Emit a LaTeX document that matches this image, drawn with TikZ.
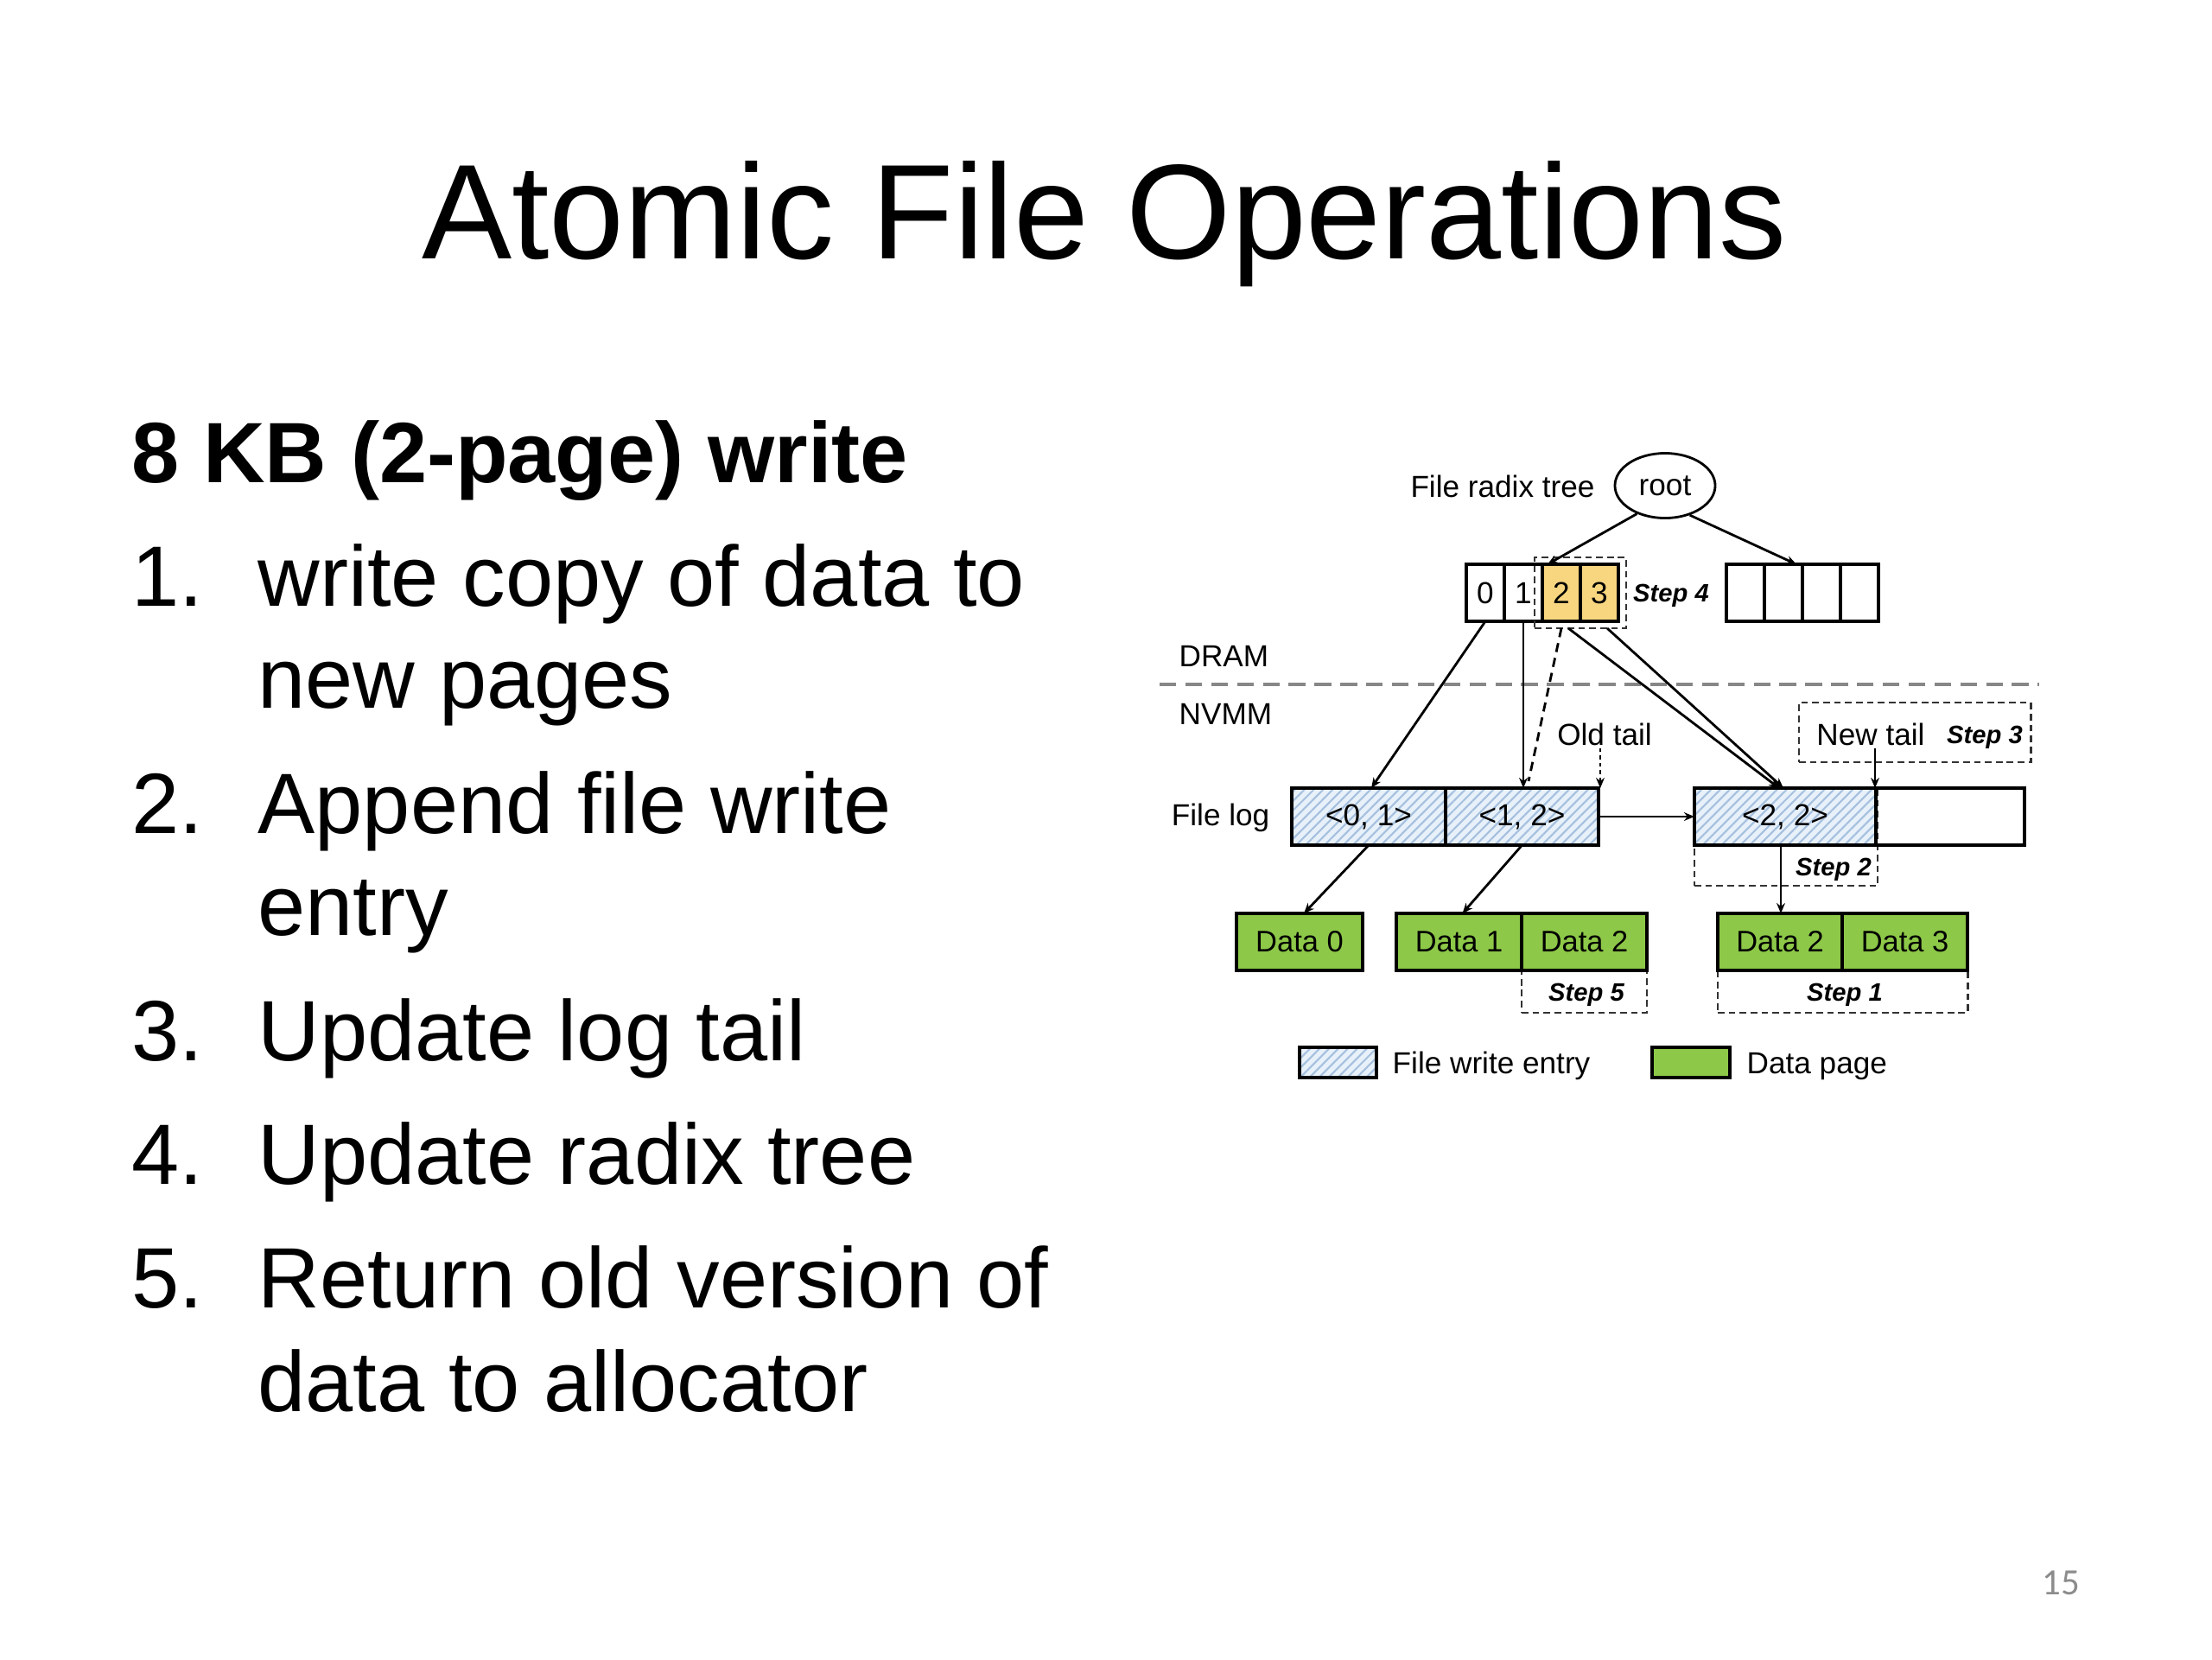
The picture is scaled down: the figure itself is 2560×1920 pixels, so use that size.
\documentclass[tikz,border=0pt]{standalone}
\usepackage{fontspec}
\setmainfont{Liberation Sans}
\newfontfamily\pgnumfont{Carlito}
\usetikzlibrary{shapes.geometric,patterns.meta,arrows.meta,calc,fit}
\definecolor{cellyellow}{RGB}{248,214,128}
\definecolor{datagreen}{RGB}{141,200,72}
\definecolor{hatchbg}{RGB}{232,241,250}
\definecolor{hatchln}{RGB}{165,192,222}
\definecolor{sepgray}{RGB}{135,135,135}
\definecolor{pggray}{RGB}{140,140,140}
\begin{document}
\begin{tikzpicture}[x=0.01cm,y=-0.01cm,
  dtext/.style={font=\fontsize{10}{12}\selectfont, inner sep=0},
  steptext/.style={font=\fontsize{8.3}{10}\selectfont\bfseries\itshape, inner sep=0, anchor=base},
  cellbox/.style={draw, line width=0.9pt, minimum width=4.4mm, minimum height=6.6mm, inner sep=0, outer sep=0, font=\fontsize{10}{12}\selectfont},
  logbox/.style={draw, line width=0.9pt, minimum height=6.6mm, inner sep=0, outer sep=0, font=\fontsize{10}{12}\selectfont},
  hatch/.style={preaction={fill=hatchbg}, pattern={Lines[angle=45,distance=2.2pt,line width=0.6pt]}, pattern color=hatchln},
  databox/.style={draw, fill=datagreen, line width=0.9pt, minimum height=6.6mm, minimum width=14.5mm, inner sep=0, outer sep=0, font=\fontsize{9.8}{12}\selectfont},
  stepbox/.style={draw=black!80, dash pattern=on 2.2pt off 1.4pt, line width=0.8pt, inner sep=0, outer sep=0},
  arr/.style={line width=0.8pt, -{Stealth[length=3.4pt,width=2.8pt]}},
  listtext/.style={font=\fontsize{28.2}{34}\selectfont, anchor=base west, inner sep=0},
]
\useasboundingbox (0,0) rectangle (2560,1920);
\fill[white] (0,0) rectangle (2560,1920);

% title
\node[font=\fontsize{44.4}{50}\selectfont, anchor=base, inner sep=0] (title) at (1278,299) {Atomic File Operations};

% left text
\node[listtext, font=\fontsize{28.2}{34}\selectfont\bfseries] (head) at (152,558) {8 KB (2-page) write};
\node[listtext] (n1) at (152,701) {1.};
\node[listtext] (t1a) at (298,701) {write copy of data to};
\node[listtext] (t1b) at (298,819) {new pages};
\node[listtext] (n2) at (152,964) {2.};
\node[listtext] (t2a) at (298,964) {Append file write};
\node[listtext] (t2b) at (298,1082) {entry};
\node[listtext] (n3) at (152,1227) {3.};
\node[listtext] (t3) at (298,1227) {Update log tail};
\node[listtext] (n4) at (152,1370) {4.};
\node[listtext] (t4) at (298,1370) {Update radix tree};
\node[listtext] (n5) at (152,1513) {5.};
\node[listtext] (t5a) at (298,1513) {Return old version of};
\node[listtext] (t5b) at (298,1633) {data to allocator};

% page number
\node[font=\pgnumfont\fontsize{12.2}{14}\selectfont, text=pggray, anchor=base west, inner sep=0] (pg) at (2363,1845) {15};

% ---------- diagram ----------
\node[dtext] (frt) at (1739,563) {File radix tree};
\node[ellipse, draw, line width=0.8pt, minimum width=11.6mm, minimum height=7.5mm, inner sep=0, font=\fontsize{10}{12}\selectfont] (root) at (1927,562) {root};

% left array
\node[cellbox] (c0) at (1719,686) {0};
\node[cellbox] (c1) at (1763,686) {1};
\node[cellbox, fill=cellyellow] (c2) at (1807,686) {2};
\node[cellbox, fill=cellyellow] (c3) at (1851,686) {3};
\node[stepbox, fit=(c2)(c3), inner xsep=0.9mm, inner ysep=0.8mm] (s4) {};
\node[steptext] (s4t) at (1934,696) {Step 4};

% right array
\node[cellbox] (r0) at (2020,686) {};
\node[cellbox] (r1) at (2064,686) {};
\node[cellbox] (r2) at (2108,686) {};
\node[cellbox] (r3) at (2152,686) {};

% DRAM / NVMM
\node[dtext, anchor=west] (dram) at (1364,759) {DRAM};
\node[dtext, anchor=west] (nvmm) at (1364,826) {NVMM};
\coordinate (sepL) at (1342,792);
\coordinate (sepR) at (2360,792);
\draw[sepgray, line width=1.3pt, dash pattern=on 5.5pt off 3pt] (sepL) -- (sepR);

% step boxes (dashed)
\node[stepbox, minimum width=26.8mm, minimum height=6.9mm] (s3) at (2216,847.5) {};
\node[stepbox, minimum width=21.2mm, minimum height=11.3mm] (s2) at (2067,968.5) {};
\node[stepbox, minimum width=14.5mm, minimum height=11.5mm] (s5) at (1833.5,1114.5) {};
\node[stepbox, minimum width=28.9mm, minimum height=11.5mm] (s1) at (2132.5,1114.5) {};

\node[dtext] (newtail) at (2165,850) {New tail};
\node[steptext] (s3t) at (2297,860) {Step 3};
\node[dtext] (oldtail) at (1857,850) {Old tail};

% file log
\node[dtext, anchor=base east] (flog) at (1470,955) {File log};
\node[logbox, hatch, minimum width=17.8mm] (e01) at (1584,945) {<0, 1>};
\node[logbox, hatch, minimum width=17.7mm] (e12) at (1761.5,945) {<1, 2>};
\node[logbox, hatch, minimum width=21.0mm] (e22) at (2066,945) {<2, 2>};
\node[logbox, minimum width=17.2mm] (eemp) at (2257,945) {};
\node[steptext] (s2t) at (2122,1013) {Step 2};

% data pages
\node[databox, minimum width=14.6mm] (d0) at (1504,1090) {Data 0};
\node[databox] (d1) at (1688.5,1090) {Data 1};
\node[databox] (d2) at (1833.5,1090) {Data 2};
\node[databox, minimum width=14.4mm] (d2b) at (2060,1090) {Data 2};
\node[databox] (d3) at (2204.5,1090) {Data 3};
\node[steptext] (s5t) at (1836,1158) {Step 5};
\node[steptext] (s1t) at (2135,1158) {Step 1};

% legend
\node[logbox, hatch, minimum width=8.9mm, minimum height=3.5mm] (lw) at (1548.5,1229.5) {};
\node[dtext, anchor=base west] (lwt) at (1611,1242) {File write entry};
\node[logbox, fill=datagreen, minimum width=9mm, minimum height=3.5mm] (lg) at (1957,1229.5) {};
\node[dtext, anchor=base west] (lgt) at (2021,1242) {Data page};

% connectors
\draw[arr] (root.225) -- ($(c2.north west)+(6,0)$);
\draw[arr] (root.310) -- ($(r2.north west)+(-7,0)$);
\draw[arr] (c0.south) -- ($(e01.north)+(3,0)$);
\draw[arr] (c1.south) -- (c1.south |- e12.north);
\draw[line width=0.8pt, dash pattern=on 3pt off 2pt] (c2.south |- s4.south) -- ($(c1.south |- e12.north)+(6,-8)$);
\draw[arr] ($(c2.south |- s4.south)+(8,0)$) -- ($(e22.north)+(-7,0)$);
\draw[arr] ($(c3.south |- s4.south)+(9,0)$) -- ($(e22.north)+(-2,0)$);
\coordinate (otStart) at (1852,866);
\draw[line width=0.8pt, dash pattern=on 1.2pt off 1.2pt, -{Stealth[length=3.4pt,width=2.8pt]}] (otStart) -- (otStart |- e12.north);
\coordinate (ntStart) at (2170,866);
\draw[arr] (ntStart) -- (ntStart |- e22.north);
\draw[arr] (e12.east) -- (e22.west);
\draw[arr] (e01.south) -- ($(d0.north)+(5,0)$);
\draw[arr] (e12.south) -- ($(d1.north)+(4,0)$);
\draw[arr] ($(e22.south)+(-5,0)$) -- ($(e22.south |- d2b.north)+(-5,0)$);
\end{tikzpicture}
\end{document}
